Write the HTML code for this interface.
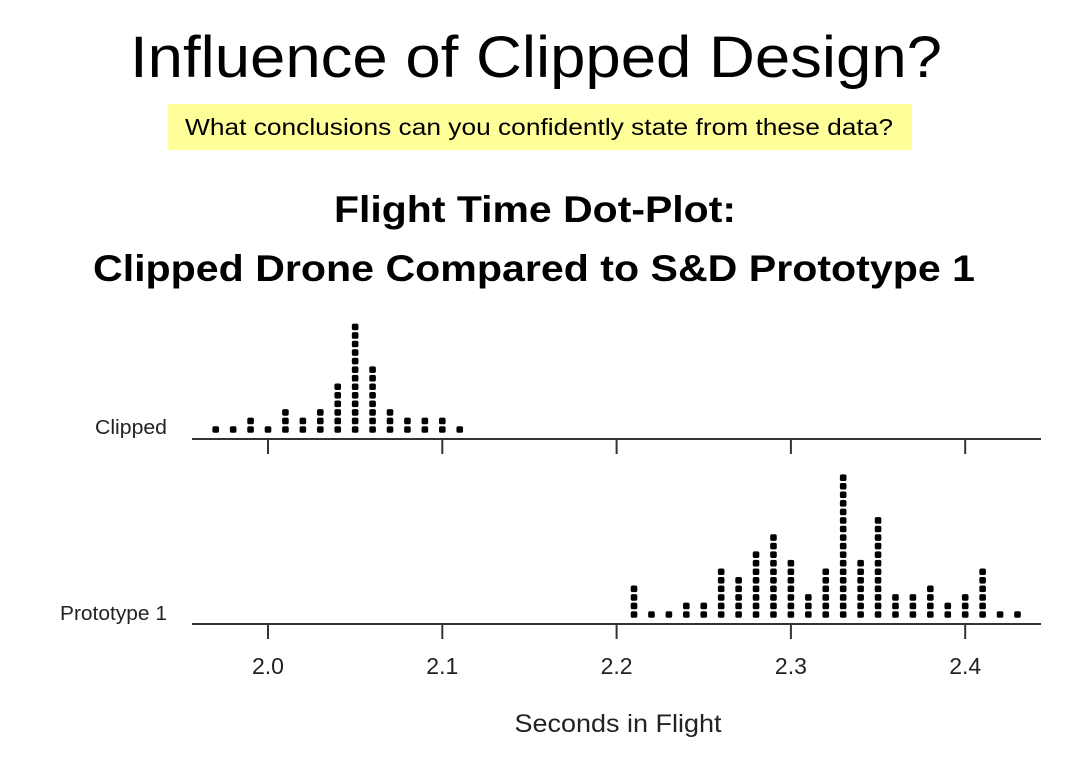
<!DOCTYPE html>
<html><head><meta charset="utf-8"><style>
body{margin:0;background:#fff;width:1079px;height:783px;overflow:hidden}
svg{display:block}
</style></head><body>
<svg id="chart" width="1079" height="783" xmlns="http://www.w3.org/2000/svg" font-family="Liberation Sans, Arial, sans-serif">
<text x="536" y="77" text-anchor="middle" font-size="58" textLength="812" lengthAdjust="spacingAndGlyphs">Influence of Clipped Design?</text>
<rect x="168" y="104" width="744" height="46" fill="#ffff99"/>
<text x="539" y="135" text-anchor="middle" font-size="23" textLength="708" lengthAdjust="spacingAndGlyphs">What conclusions can you confidently state from these data?</text>
<text x="535" y="222" text-anchor="middle" font-size="37" font-weight="bold" textLength="402" lengthAdjust="spacingAndGlyphs">Flight Time Dot-Plot:</text>
<text x="534" y="281" text-anchor="middle" font-size="37" font-weight="bold" textLength="882" lengthAdjust="spacingAndGlyphs">Clipped Drone Compared to S&amp;D Prototype 1</text>
<g id="plot"></g>
<text x="618" y="732" text-anchor="middle" font-size="25" fill="#222" textLength="207" lengthAdjust="spacingAndGlyphs">Seconds in Flight</text>
</svg>
<script>
const clippedValues=[1.97,1.98,1.99,2.00,2.01,2.02,2.03,2.04,2.05,2.06,2.07,2.08,2.09,2.10,2.11];
const clippedCounts=[1,1,2,1,3,2,3,6,13,8,3,2,2,2,1];
const protoValues=[2.21,2.22,2.23,2.24,2.25,2.26,2.27,2.28,2.29,2.30,2.31,2.32,2.33,2.34,2.35,2.36,2.37,2.38,2.39,2.40,2.41,2.42,2.43];
const protoCounts=[4,1,1,2,2,6,5,8,10,7,3,6,17,7,12,3,3,4,2,3,6,1,1];
const tickValues=[2.0,2.1,2.2,2.3,2.4];
const tickLabels=["2.0","2.1","2.2","2.3","2.4"];
const NS="http://www.w3.org/2000/svg";
const g=document.getElementById('plot');
const xs=v=>268+(v-2.0)*1743;
function el(t,a){const e=document.createElementNS(NS,t);for(const k in a)e.setAttribute(k,a[k]);g.appendChild(e);return e;}
const panels=[{name:'clipped',label:'Clipped',axisY:439,vals:clippedValues,cnt:clippedCounts,labelY:434,lw:72},
{name:'prototype',label:'Prototype 1',axisY:624,vals:protoValues,cnt:protoCounts,labelY:620,lw:107}];
panels.forEach(p=>{
  const ax=el('line',{x1:192,x2:1041,y1:p.axisY,y2:p.axisY,stroke:'#333','stroke-width':2});
  
  
  tickValues.forEach((t,i)=>{
    const tk=el('line',{x1:xs(t),x2:xs(t),y1:p.axisY,y2:p.axisY+15,stroke:'#333','stroke-width':2});
    
    
  });
  const lb=el('text',{x:167,y:p.labelY,'text-anchor':'end','font-size':20,fill:'#222',textLength:p.lw,lengthAdjust:'spacingAndGlyphs'});
  lb.textContent=p.label;
  
  
  p.vals.forEach((v,i)=>{
    for(let k=0;k<p.cnt[i];k++){
      const cy=p.axisY-9.5-k*8.55;
      const d=el('rect',{x:xs(v)-3.3,y:cy-3.3,width:6.6,height:6.6,rx:1.8,fill:'#000'});
      
      
    }
  });
});
tickValues.forEach((t,i)=>{
  const tl=el('text',{x:xs(t),y:674,'text-anchor':'middle','font-size':23,fill:'#222'});
  tl.textContent=tickLabels[i];
  
  
});
</script>
</body></html>
